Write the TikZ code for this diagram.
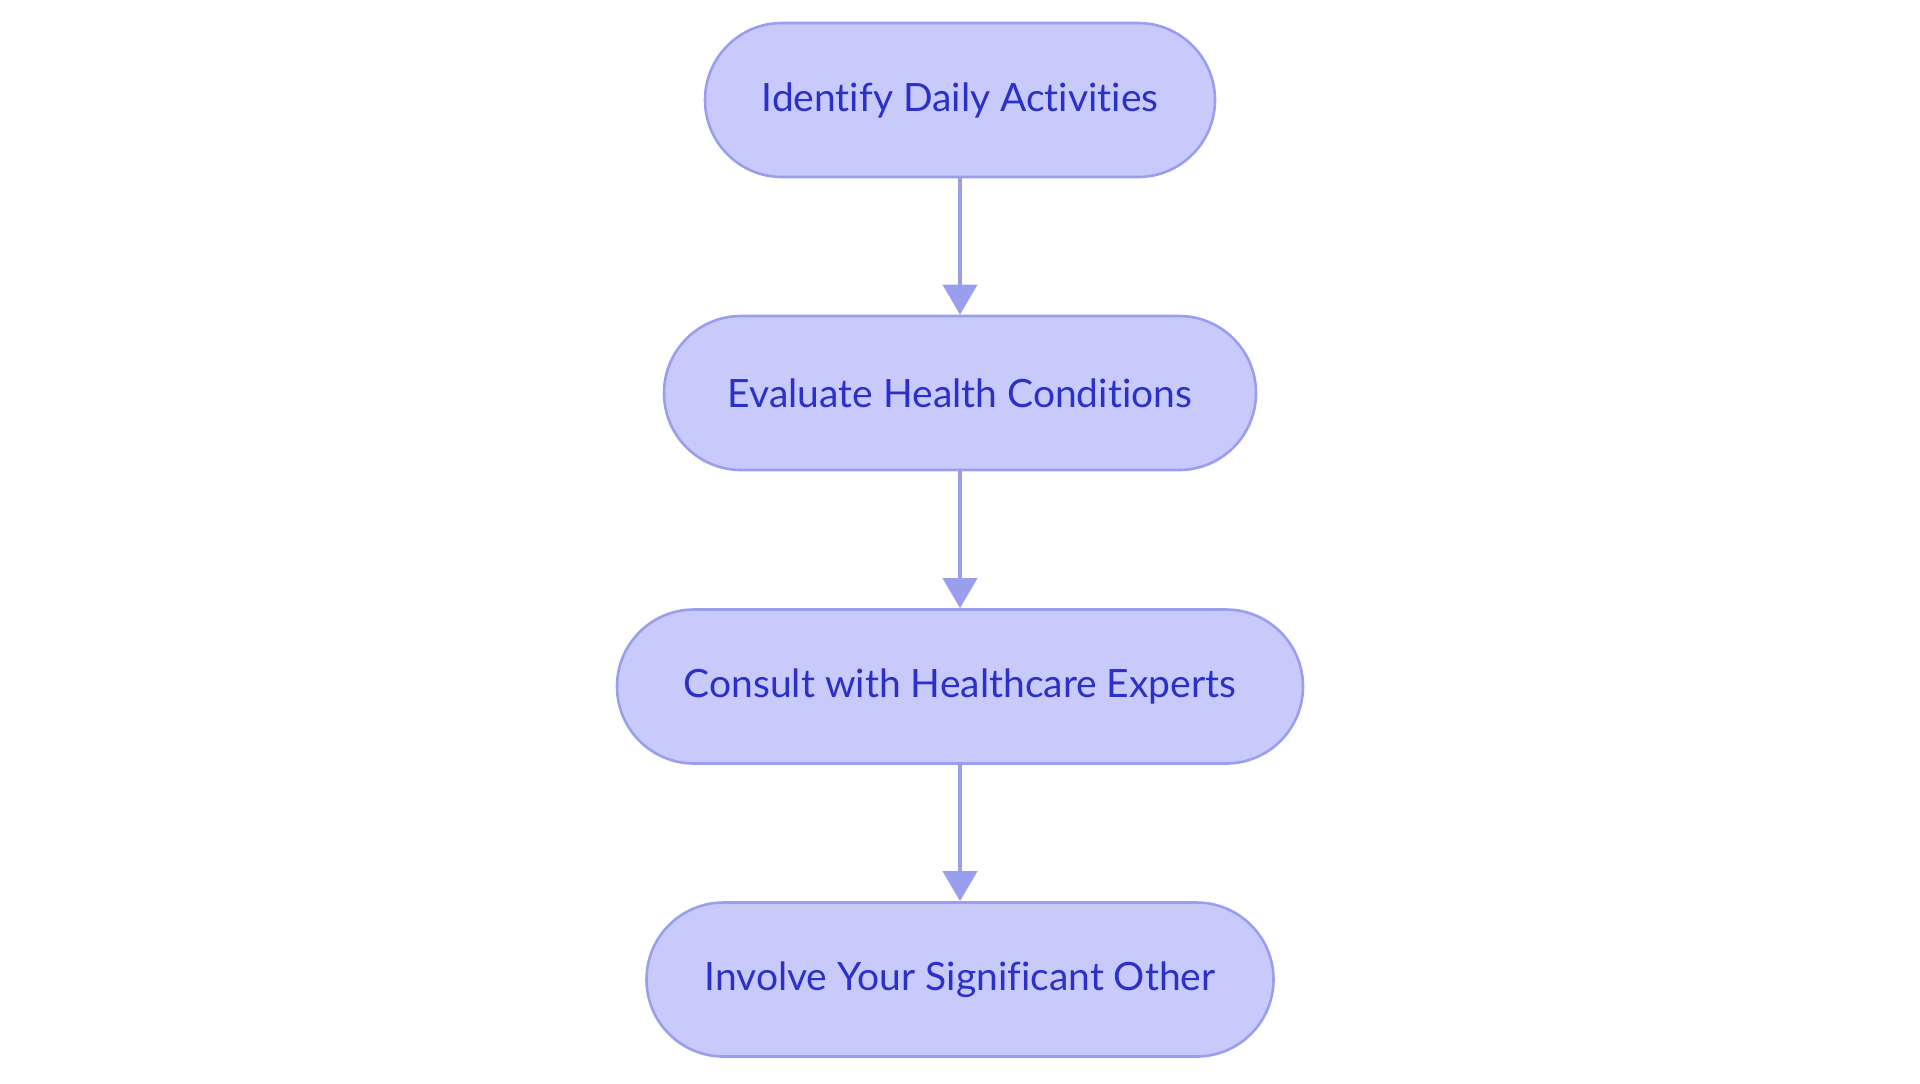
\documentclass[tikz,border=0pt]{standalone}
\usepackage{fontspec}
\setmainfont{Lato}[Ligatures={NoCommon,NoContextual}]
\usetikzlibrary{arrows.meta}
\definecolor{nodefill}{HTML}{C9CAFC}
\definecolor{nodeline}{HTML}{9A9EEE}
\definecolor{nodetext}{HTML}{2A30C8}
\begin{document}
\begin{tikzpicture}[x=0.5pt,y=-0.5pt,
  stepbox/.style={draw=nodeline,fill=nodefill,line width=1.3pt,rounded corners=38.5pt,
    minimum height=77pt,inner sep=0pt,text=nodetext,font=\fontsize{19.5}{23}\selectfont},
  flow/.style={draw=nodeline,line width=2pt,-{Triangle[width=17pt,length=15pt]}}]
\path[use as bounding box] (0,0) rectangle (1920,1083);
\node[stepbox,minimum width=255pt] (a) at (960,100) {Identify Daily Activities};
\node[stepbox,minimum width=296pt] (b) at (960,393) {Evaluate Health Conditions};
\node[stepbox,minimum width=343pt] (c) at (960,686.5) {Consult with Healthcare Experts};
\node[stepbox,minimum width=313.5pt] (d) at (960,979.5) {Involve Your Significant Other};
\draw[flow] (a) -- (b);
\draw[flow] (b) -- (c);
\draw[flow] (c) -- (d);
\end{tikzpicture}
\end{document}
